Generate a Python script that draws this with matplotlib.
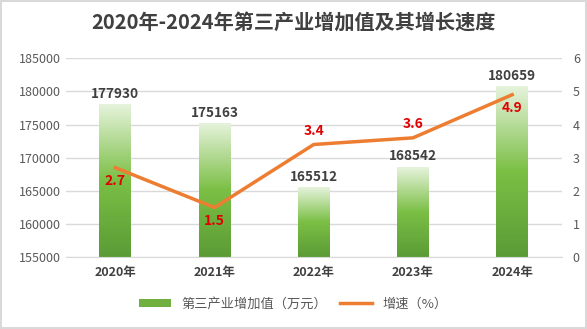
import numpy as np
import matplotlib
matplotlib.use("Agg")
import matplotlib.pyplot as plt
from matplotlib.colors import LinearSegmentedColormap
from matplotlib.patches import Patch
from matplotlib.lines import Line2D

plt.rcParams['font.family'] = ['Noto Sans CJK SC', 'DejaVu Sans']

years = ['2020年', '2021年', '2022年', '2023年', '2024年']
added_value = [177930, 175163, 165512, 168542, 180659]
growth = [2.7, 1.5, 3.4, 3.6, 4.9]
growth_label_above = [False, False, True, True, False]

fig = plt.figure(figsize=(5.87, 3.29), dpi=100)
fig.patch.set_edgecolor('#d9d9d9')
fig.patch.set_linewidth(1.5)
ax = fig.add_axes([0.112, 0.218, 0.845, 0.605])
ax2 = ax.twinx()

x = np.arange(len(years))
w = 0.32
cmap = LinearSegmentedColormap.from_list('g', ['#5b9b36', '#7bbf45', '#e6f3dc'])
grad = np.linspace(0, 1, 256).reshape(-1, 1)

for xi, v in zip(x, added_value):
    ax.imshow(grad, cmap=cmap, origin='lower', aspect='auto',
              extent=(xi - w / 2, xi + w / 2, 155000, v), zorder=2)
    ax.text(xi, v + 600, str(v), ha='center', va='bottom', fontsize=9.8,
            fontweight='bold', color='#404040', zorder=5)
ax.set_xlim(-0.5, len(years) - 0.5)
ax.set_ylim(155000, 185000)
ax.set_yticks(np.arange(155000, 185001, 5000))
ax.yaxis.grid(True, color='#d9d9d9', linewidth=1)
ax.set_axisbelow(True)
ax.set_xticks(x)
ax.set_xticklabels(years, fontweight='bold')
ax.tick_params(axis='x', length=0, pad=6, labelsize=9, labelcolor='#404040')
ax.tick_params(axis='y', length=0, labelsize=9, labelcolor='#595959')
for s in ['top', 'left', 'right']:
    ax.spines[s].set_visible(False)
ax.spines['bottom'].set_color('#d9d9d9')

ax2.plot(x, growth, color='#ed7d31', linewidth=2.5, zorder=4)
ax2.set_ylim(0, 6)
ax2.set_yticks(range(0, 7))
ax2.tick_params(axis='y', length=0, labelsize=9, labelcolor='#595959', pad=8)
for s in ['top', 'left', 'right', 'bottom']:
    ax2.spines[s].set_visible(False)
for xi, g, above in zip(x, growth, growth_label_above):
    if above:
        ax2.text(xi, g + 0.2, str(g), ha='center', va='bottom', fontsize=10,
                 fontweight='bold', color='#e00000')
    else:
        ax2.text(xi, g - 0.2, str(g), ha='center', va='top', fontsize=10,
                 fontweight='bold', color='#e00000')

fig.text(0.5, 0.93, '2020年-2024年第三产业增加值及其增长速度', ha='center', va='center',
         fontsize=14.5, fontweight='bold', color='#404040')

handles = [Patch(facecolor='#70b040', edgecolor='none'),
           Line2D([0], [0], color='#ed7d31', linewidth=2.5)]
fig.legend(handles, ['第三产业增加值（万元）', '增速（%）'], loc='center',
           bbox_to_anchor=(0.5, 0.075), ncol=2, frameon=False, fontsize=9.5,
           labelcolor='#595959', handlelength=2.4, handleheight=0.6, columnspacing=1.0)

fig.savefig('out.png', dpi=100, edgecolor=fig.get_edgecolor())
